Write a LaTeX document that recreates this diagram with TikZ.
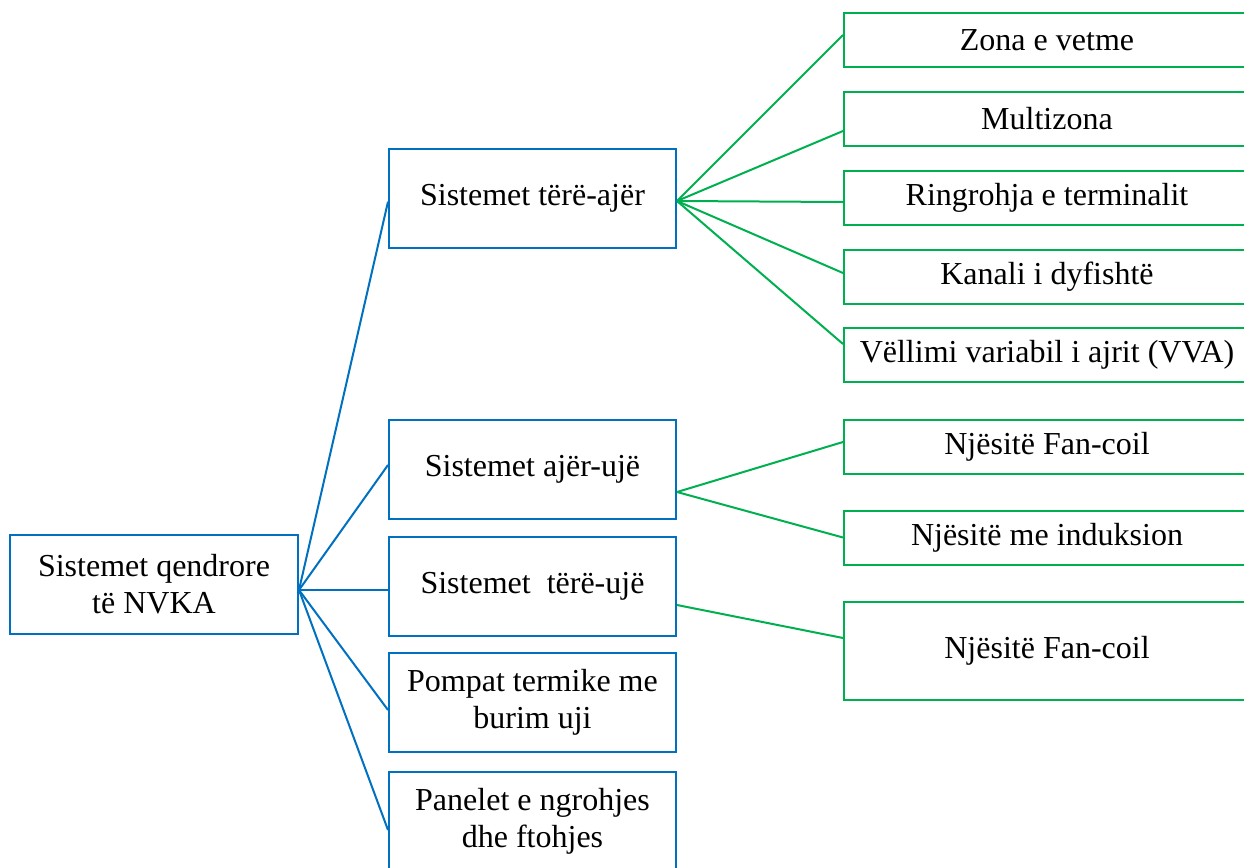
\documentclass[tikz,border=0pt]{standalone}
\usepackage{fontspec}
\setmainfont{Liberation Serif}
\usetikzlibrary{positioning}
\definecolor{hvacblue}{RGB}{0,112,192}
\definecolor{hvacgreen}{RGB}{0,176,80}

\begin{document}
\begin{tikzpicture}[
    x=0.5pt, y=-0.5pt,
    font=\fontsize{16}{18.5}\selectfont,
    rootbox/.style={rectangle, draw=hvacblue, line width=1pt, align=center, inner sep=0pt,
                    minimum width=144pt, minimum height=49.5pt},
    sysbox/.style={rootbox, minimum width=143.5pt},
    unitbox/.style={rectangle, draw=hvacgreen, line width=1pt, align=center, inner sep=0pt,
                    minimum width=203pt, minimum height=27pt},
    bluelink/.style={draw=hvacblue, line width=1pt},
    greenlink/.style={draw=hvacgreen, line width=1pt}
]
    \useasboundingbox (0,0) rectangle (1244,868);
    \clip (0,0) rectangle (1244,868);

    % root
    \node[rootbox] (nvka) at (154, 584.5) {Sistemet qendrore\\të NVKA};

    % systems
    \node[sysbox] (ta) at (532.5, 198) {Sistemet tërë-ajër};
    \node[sysbox] (au) at (532.5, 469) {Sistemet ajër-ujë};
    \node[sysbox] (tu) at (532.5, 586) {Sistemet~ tërë-ujë};
    \node[sysbox] (pt) at (532.5, 702) {Pompat termike me\\burim uji};
    \node[sysbox] (pa) at (532.5, 821) {Panelet e ngrohjes\\dhe ftohjes};

    % units
    \node[unitbox] (zv) at (1047, 40) {Zona e vetme};
    \node[unitbox] (mz) at (1047, 119) {Multizona};
    \node[unitbox] (rt) at (1047, 197.5) {Ringrohja e terminalit};
    \node[unitbox] (kd) at (1047, 276.5) {Kanali i dyfishtë};
    \node[unitbox] (vv) at (1047, 355) {Vëllimi variabil i ajrit (VVA)};
    \node[unitbox] (fc1) at (1047, 446.5) {Njësitë Fan-coil};
    \node[unitbox] (ni) at (1047, 537.5) {Njësitë me induksion};
    \node[unitbox, minimum height=49pt] (fc2) at (1047, 651) {Njësitë Fan-coil};

    % connectors
    \draw[bluelink] ([yshift=-2.75pt]nvka.east) -- ([yshift=-1.85pt]ta.west);
    \draw[bluelink] ([yshift=-2.75pt]nvka.east) -- ([yshift=2pt]au.west);
    \draw[bluelink] ([yshift=-2.75pt]nvka.east) -- ([yshift=-2pt]tu.west);
    \draw[bluelink] ([yshift=-2.75pt]nvka.east) -- ([yshift=-4pt]pt.west);
    \draw[bluelink] ([yshift=-2.75pt]nvka.east) -- ([yshift=-4.5pt]pa.west);

    \draw[greenlink] ([yshift=-1.5pt]ta.east) -- ([yshift=2.5pt]zv.west);
    \draw[greenlink] ([yshift=-1.5pt]ta.east) -- ([yshift=-6pt]mz.west);
    \draw[greenlink] ([yshift=-1.5pt]ta.east) -- ([yshift=-2.25pt]rt.west);
    \draw[greenlink] ([yshift=-1.5pt]ta.east) -- ([yshift=1.75pt]kd.west);
    \draw[greenlink] ([yshift=-1.5pt]ta.east) -- ([yshift=5.5pt]vv.west);

    \draw[greenlink] ([yshift=-11.5pt]au.east) -- ([yshift=2.25pt]fc1.west);
    \draw[greenlink] ([yshift=-11.5pt]au.east) -- (ni.west);
    \draw[greenlink] ([yshift=-9.5pt]tu.east) -- ([yshift=6.5pt]fc2.west);
\end{tikzpicture}
\end{document}
